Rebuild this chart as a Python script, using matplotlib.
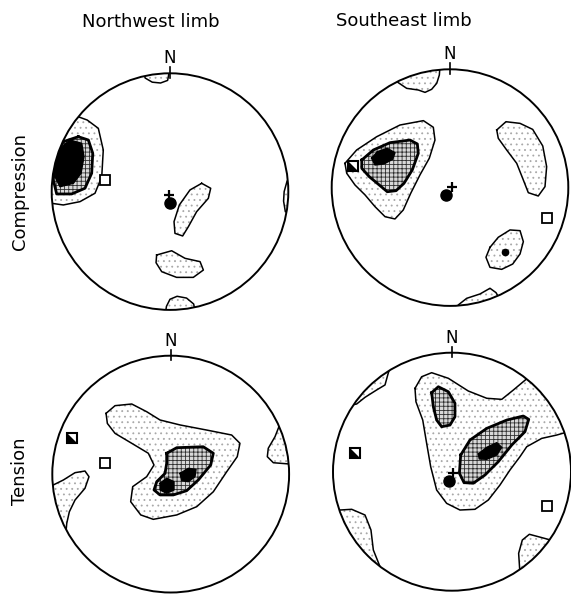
import numpy as np
import matplotlib
matplotlib.use('Agg')
import matplotlib.pyplot as plt
from matplotlib.patches import Polygon, Circle

plt.rcParams['font.family'] = ['DejaVu Sans']
plt.rcParams['hatch.linewidth'] = 0.6

# ---- contour outlines, in unit-circle (stereonet) coordinates --------------
# panel A: Northwest limb, compression
A_top_edge = [(-0.25, 1.1), (-0.21, 0.96), (-0.15, 0.925), (-0.08, 0.918),
              (-0.02, 0.94), (0.01, 1.1)]
A_west_outer = [(-0.85, 0.66), (-0.70, 0.605), (-0.606, 0.535), (-0.564, 0.352),
                (-0.577, 0.126), (-0.634, -0.014), (-0.761, -0.085),
                (-0.902, -0.113), (-1.0, -0.099), (-1.2, -0.1), (-1.2, 0.7)]
A_west_mid = [(-0.775, 0.464), (-0.69, 0.436), (-0.653, 0.324), (-0.662, 0.155),
              (-0.719, 0.028), (-0.831, -0.02), (-0.958, -0.02), (-0.986, 0.098),
              (-0.972, 0.295), (-0.902, 0.422)]
A_west_core = [(-0.845, 0.436), (-0.746, 0.408), (-0.727, 0.295), (-0.752, 0.155),
               (-0.817, 0.07), (-0.930, 0.041), (-0.972, 0.126), (-0.964, 0.267),
               (-0.915, 0.38)]
A_ridge = [(0.268, 0.07), (0.344, 0.028), (0.324, -0.057), (0.225, -0.17),
           (0.155, -0.297), (0.107, -0.375), (0.042, -0.353), (0.034, -0.254),
           (0.079, -0.113), (0.169, 0.014)]
A_south = [(-0.113, -0.536), (0.014, -0.5), (0.127, -0.564), (0.254, -0.592),
           (0.282, -0.663), (0.197, -0.725), (0.056, -0.725), (-0.07, -0.677),
           (-0.118, -0.601)]
A_bottom_edge = [(-0.05, -1.1), (-0.03, -0.97), (0.0, -0.91), (0.06, -0.885),
                 (0.14, -0.9), (0.2, -0.95), (0.23, -1.1)]
A_east_edge = [(1.1, 0.1), (0.99, 0.09), (0.965, 0.0), (0.96, -0.08),
               (0.975, -0.17), (1.1, -0.2)]

# panel B: Southeast limb, compression
B_top_edge = [(-0.5, 1.1), (-0.45, 0.9), (-0.437, 0.887), (-0.366, 0.839),
              (-0.268, 0.825), (-0.211, 0.805), (-0.155, 0.831), (-0.112, 0.882),
              (-0.09, 0.952), (-0.08, 1.1)]
B_west_outer = [(-0.888, 0.205), (-0.789, 0.318), (-0.62, 0.43), (-0.423, 0.529),
                (-0.225, 0.566), (-0.141, 0.51), (-0.127, 0.402), (-0.175, 0.248),
                (-0.254, 0.107), (-0.332, -0.048), (-0.395, -0.189),
                (-0.465, -0.265), (-0.549, -0.246), (-0.634, -0.161),
                (-0.718, -0.062), (-0.803, 0.022), (-0.873, 0.121)]
B_west_mid = [(-0.746, 0.233), (-0.648, 0.318), (-0.507, 0.38), (-0.338, 0.402),
              (-0.276, 0.369), (-0.268, 0.29), (-0.319, 0.149), (-0.389, 0.036),
              (-0.456, -0.026), (-0.53, -0.035), (-0.598, 0.022), (-0.682, 0.092),
              (-0.746, 0.163)]
B_west_core = [(-0.662, 0.248), (-0.614, 0.304), (-0.53, 0.332), (-0.465, 0.295),
               (-0.485, 0.239), (-0.558, 0.2), (-0.634, 0.191)]
B_east = [(0.395, 0.487), (0.473, 0.557), (0.592, 0.543), (0.699, 0.492),
          (0.784, 0.352), (0.817, 0.177), (0.803, 0.008), (0.746, -0.071),
          (0.662, -0.043), (0.62, 0.064), (0.564, 0.205), (0.479, 0.318),
          (0.408, 0.417)]
B_southeast = [(0.338, -0.505), (0.408, -0.42), (0.507, -0.358), (0.592, -0.364),
               (0.62, -0.457), (0.592, -0.561), (0.53, -0.646), (0.437, -0.691),
               (0.338, -0.674), (0.304, -0.589)]
B_bottom_edge = [(0.05, -1.1), (0.07, -0.992), (0.141, -0.936), (0.254, -0.899),
                 (0.338, -0.851), (0.389, -0.888), (0.417, -0.936), (0.5, -1.1)]

# panel C: Northwest limb, tension
C_outer = [(-0.546, 0.513), (-0.47, 0.578), (-0.329, 0.592), (-0.203, 0.527),
           (-0.09, 0.457), (0.079, 0.415), (0.304, 0.372), (0.515, 0.33),
           (0.585, 0.26), (0.562, 0.147), (0.473, 0.02), (0.36, -0.149),
           (0.22, -0.275), (0.051, -0.345), (-0.147, -0.382), (-0.253, -0.345),
           (-0.338, -0.233), (-0.321, -0.106), (-0.203, -0.022), (-0.141, 0.077),
           (-0.189, 0.176), (-0.329, 0.26), (-0.47, 0.344), (-0.535, 0.428)]
C_mid = [(-0.034, 0.176), (0.051, 0.223), (0.275, 0.231), (0.36, 0.176),
         (0.338, 0.077), (0.233, -0.05), (0.135, -0.14), (0.022, -0.176),
         (-0.09, -0.176), (-0.141, -0.134), (-0.118, -0.064), (-0.048, 0.006),
         (-0.034, 0.091)]
C_core1 = [(0.079, 0.006), (0.149, 0.049), (0.214, 0.04), (0.205, -0.022),
           (0.149, -0.064), (0.093, -0.056)]
C_core2 = [(-0.09, -0.078), (-0.034, -0.035), (0.028, -0.064), (0.028, -0.134),
           (-0.034, -0.162), (-0.09, -0.134)]
C_west_edge = [(-1.2, -0.05), (-0.992, -0.092), (-0.907, -0.05), (-0.808, 0.012),
               (-0.724, 0.026), (-0.69, -0.022), (-0.724, -0.12), (-0.808, -0.219),
               (-0.856, -0.318), (-0.878, -0.416), (-0.884, -0.486), (-1.2, -0.6)]
C_east_edge = [(1.2, 0.5), (0.923, 0.423), (0.881, 0.316), (0.824, 0.218),
               (0.816, 0.147), (0.867, 0.096), (1.008, 0.085), (1.2, 0.08)]

# panel D: Southeast limb, tension
D_outer = [(-0.311, 0.7), (-0.255, 0.798), (-0.171, 0.832), (-0.031, 0.785),
           (0.137, 0.678), (0.292, 0.617), (0.418, 0.608), (0.515, 0.686),
           (0.633, 0.785), (0.75, 0.9), (1.2, 0.6), (1.2, 0.3), (0.977, 0.336),
           (0.88, 0.308), (0.754, 0.28), (0.628, 0.21), (0.571, 0.126),
           (0.487, 0.014), (0.403, -0.112), (0.305, -0.238), (0.193, -0.316),
           (0.067, -0.322), (-0.045, -0.266), (-0.129, -0.154), (-0.179, 0.042),
           (-0.213, 0.238), (-0.246, 0.434), (-0.303, 0.588)]
D_north_mid = [(-0.171, 0.664), (-0.115, 0.714), (-0.031, 0.672), (0.025, 0.575),
               (0.025, 0.462), (-0.017, 0.392), (-0.087, 0.378), (-0.129, 0.434),
               (-0.157, 0.546)]
D_main_mid = [(0.073, 0.14), (0.151, 0.266), (0.292, 0.364), (0.46, 0.434),
              (0.599, 0.468), (0.645, 0.44), (0.613, 0.336), (0.502, 0.224),
              (0.389, 0.084), (0.277, -0.028), (0.179, -0.097), (0.101, -0.092),
              (0.062, -0.013)]
D_core = [(0.221, 0.149), (0.292, 0.205), (0.376, 0.244), (0.418, 0.205),
          (0.376, 0.14), (0.292, 0.104), (0.229, 0.107)]
D_nw_edge = [(-0.9, 0.55), (-0.801, 0.569), (-0.731, 0.625), (-0.633, 0.687),
             (-0.563, 0.729), (-0.54, 0.813), (-0.5, 0.95), (-0.9, 0.9)]
D_sw_edge = [(-1.2, -0.3), (-0.941, -0.322), (-0.843, -0.316), (-0.731, -0.364),
             (-0.681, -0.49), (-0.661, -0.658), (-0.605, -0.798), (-0.7, -1.0),
             (-1.2, -0.5)]
D_se_edge = [(0.571, -0.854), (0.56, -0.686), (0.591, -0.574), (0.65, -0.526),
             (0.725, -0.546), (0.851, -0.58), (1.2, -0.6), (0.7, -1.1),
             (0.571, -1.0)]

# point symbols (x, y)
open_squares = {'A': [(-0.55, 0.098)], 'B': [(0.817, -0.26)],
                'C': [(-0.555, 0.091)], 'D': [(0.801, -0.288)]}
half_squares = {'A': [], 'B': [(-0.817, 0.183)],
                'C': [(-0.831, 0.302)], 'D': [(-0.815, 0.154)]}
dots = {'A': [(0.0, -0.099)], 'B': [(-0.034, -0.063), (0.465, -0.542)],
        'C': [], 'D': [(-0.022, -0.078)]}
dot_sizes = {'A': [8], 'B': [8, 4.5], 'C': [], 'D': [8]}
crosses = {'A': [(-0.005, -0.025)], 'B': [(0.015, 0.005)], 'C': [],
           'D': [(0.012, -0.01)]}

# contour levels per panel: (polygon, level) 1 = light, 2 = dense, 3 = black
panels = {
    'A': [(A_top_edge, 1), (A_west_outer, 1), (A_ridge, 1), (A_south, 1),
          (A_bottom_edge, 1), (A_east_edge, 1), (A_west_mid, 2), (A_west_core, 3)],
    'B': [(B_top_edge, 1), (B_west_outer, 1), (B_east, 1), (B_southeast, 1),
          (B_bottom_edge, 1), (B_west_mid, 2), (B_west_core, 3)],
    'C': [(C_outer, 1), (C_west_edge, 1), (C_east_edge, 1), (C_mid, 2),
          (C_core1, 3), (C_core2, 3)],
    'D': [(D_outer, 1), (D_nw_edge, 1), (D_sw_edge, 1), (D_se_edge, 1),
          (D_north_mid, 2), (D_main_mid, 2), (D_core, 3)],
}

# layout: circle centre and radius in pixels
W, H = 571, 596
layout = {'A': (170, 191.6, 118.3), 'B': (450, 187.6, 118.3),
          'C': (170.7, 474.1, 118.4), 'D': (452, 471.7, 119)}
L = 1.2

fig = plt.figure(figsize=(W / 100, H / 100), dpi=100)

for key, shapes in panels.items():
    cx, cy, R = layout[key]
    ax = fig.add_axes([(cx - L * R) / W, (H - cy - L * R) / H, 2 * L * R / W, 2 * L * R / H])
    ax.set_xlim(-L, L)
    ax.set_ylim(-L, L)
    ax.axis('off')
    ax.patch.set_alpha(0)

    clip = Circle((0, 0), 1.0, transform=ax.transData)
    for pts, lev in shapes:
        pts = np.array(pts)
        if lev == 1:
            p = Polygon(pts, closed=True, facecolor='white', edgecolor='#a8a8a8',
                        hatch='...', linewidth=0, zorder=1)
            lw = 1.1
        elif lev == 2:
            p = Polygon(pts, closed=True, facecolor='#d8d8d8', edgecolor='#303030',
                        hatch='++++', linewidth=0, zorder=2)
            lw = 2.0
        else:
            p = Polygon(pts, closed=True, facecolor='black', edgecolor='black',
                        linewidth=0, zorder=3)
            lw = 1.0
        ax.add_patch(p)
        p.set_clip_path(clip)
        closed = np.vstack([pts, pts[:1]])
        ln, = ax.plot(closed[:, 0], closed[:, 1], color='black', lw=lw,
                      zorder=p.get_zorder() + 0.5, solid_joinstyle='round')
        ln.set_clip_path(clip)

    # primitive circle
    ax.add_patch(Circle((0, 0), 1.0, fill=False, edgecolor='black', lw=1.4, zorder=5))
    # north mark
    ax.plot([0, 0], [0.96, 1.05], color='black', lw=1.2, zorder=5)
    ax.text(0, 1.05, 'N', ha='center', va='bottom', fontsize=12, zorder=5)

    for (x, y) in open_squares[key]:
        ax.plot(x, y, marker='s', ms=7.5, mfc='white', mec='black', mew=1.3, zorder=6)
    for (x, y) in half_squares[key]:
        ax.plot(x, y, marker='s', ms=7.5, mfc='white', mec='black', mew=1.5, zorder=6)
        h = 0.042
        ax.add_patch(Polygon([(x - h, y + h), (x - h, y - h), (x + h, y - h)],
                             closed=True, facecolor='black', edgecolor='none', zorder=6))
    for (x, y), s in zip(dots[key], dot_sizes[key]):
        ax.plot(x, y, marker='o', ms=s, color='black', zorder=6)
    for (x, y) in crosses[key]:
        ax.plot(x, y, marker='+', ms=7, mew=1.6, color='black', zorder=6)

fig.text(151 / W, 1 - 22 / H, 'Northwest limb', ha='center', va='center', fontsize=13)
fig.text(404 / W, 1 - 21 / H, 'Southeast limb', ha='center', va='center', fontsize=13)
fig.text(20 / W, 1 - 191 / H, 'Compression', ha='center', va='center',
         rotation=90, fontsize=13)
fig.text(20 / W, 1 - 471 / H, 'Tension', ha='center', va='center',
         rotation=90, fontsize=13)

fig.savefig('out.png', dpi=100)
